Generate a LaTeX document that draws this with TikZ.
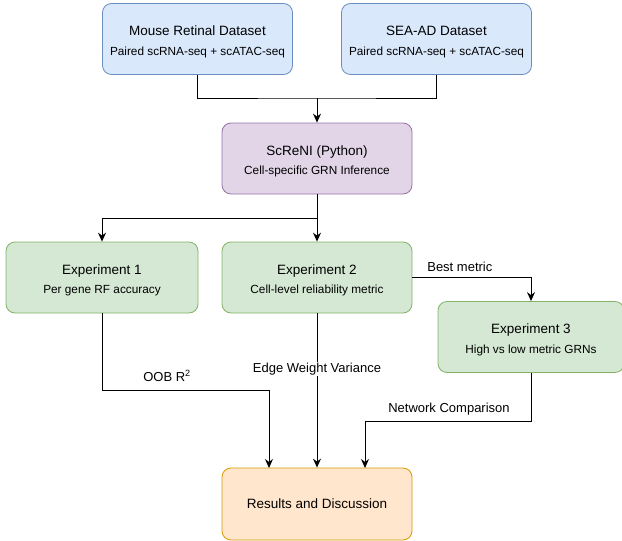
\documentclass[tikz,border=0pt]{standalone}
\usepackage{fontspec}
\setmainfont{Liberation Sans}
\usetikzlibrary{arrows.meta}

\definecolor{bluefill}{HTML}{DAE8FC}
\definecolor{blueline}{HTML}{6C8EBF}
\definecolor{purplefill}{HTML}{E1D5E7}
\definecolor{purpleline}{HTML}{9673A6}
\definecolor{greenfill}{HTML}{D5E8D4}
\definecolor{greenline}{HTML}{82B366}
\definecolor{orangefill}{HTML}{FFE6CC}
\definecolor{orangeline}{HTML}{D79B00}

\tikzset{
  box/.style={draw, rounded corners=9pt, line width=0.8pt, align=center,
    minimum width=190pt, minimum height=71pt, inner sep=0pt,
    font=\fontsize{13.5}{19.5}\selectfont},
  arr/.style={line width=1pt, -{Stealth[length=9pt,width=8pt,inset=3pt]}},
  conn/.style={line width=1pt},
  lbl/.style={font=\fontsize{13}{15}\selectfont, inner sep=1pt}
}
\newcommand{\subline}[1]{{\fontsize{11.8}{13}\selectfont #1}}
\newcommand{\topstrut}{\rule{0pt}{15.5pt}}

\begin{document}
\begin{tikzpicture}[x=1pt,y=-1pt]
\useasboundingbox (0,0) rectangle (622,541);

\node[box, fill=bluefill, draw=blueline] (mouse) at (197.5,39)
  {\topstrut Mouse Retinal Dataset\\\subline{Paired scRNA-seq + scATAC-seq}};
\node[box, fill=bluefill, draw=blueline] (seaad) at (436.5,39)
  {\topstrut SEA-AD Dataset\\\subline{Paired scRNA-seq + scATAC-seq}};
\node[box, fill=purplefill, draw=purpleline] (screni) at (317,158.5)
  {\topstrut ScReNI (Python)\\\subline{Cell-specific GRN Inference}};
\node[box, fill=greenfill, draw=greenline, minimum width=192pt] (expone) at (102,277.5)
  {\topstrut Experiment 1\\\subline{Per gene RF accuracy}};
\node[box, fill=greenfill, draw=greenline] (exptwo) at (317,277.5)
  {\topstrut Experiment 2\\\subline{Cell-level reliability metric}};
\node[box, fill=greenfill, draw=greenline, minimum width=186pt] (expthree) at (531,337)
  {\topstrut Experiment 3\\\subline{High vs low metric GRNs}};
\node[box, fill=orangefill, draw=orangeline, minimum height=72pt] (results) at (317,504)
  {Results and Discussion};

% datasets into ScReNI
\coordinate (topjoin) at (317,98);
\draw[conn] (mouse.south) |- (topjoin) -| (seaad.south);
\draw[arr] (topjoin) -- (screni.north);

% ScReNI into experiments
\coordinate (split) at (317,218);
\draw[arr] (screni.south) -- (exptwo.north);
\draw[arr] (split) -| (expone.north);
\draw[arr] (exptwo.east) -| (expthree.north)
  node[lbl, pos=0.2, above=4pt] {Best metric};

% experiments into results
\coordinate (oobend) at (269,468);
\coordinate (netend) at (365,468);
\draw[arr] (expone.south) |- (269,390.5) -- (oobend);
\node[lbl] (oob) at (167,376) {OOB R\textsuperscript{2}};
\draw[arr] (exptwo.south) -- (results.north)
  node[lbl, pos=0.36, fill=white] {Edge Weight Variance};
\draw[arr] (expthree.south) |- (365,421) -- (netend);
\node[lbl] (netcmp) at (449,409) {Network Comparison};
\end{tikzpicture}
\end{document}
